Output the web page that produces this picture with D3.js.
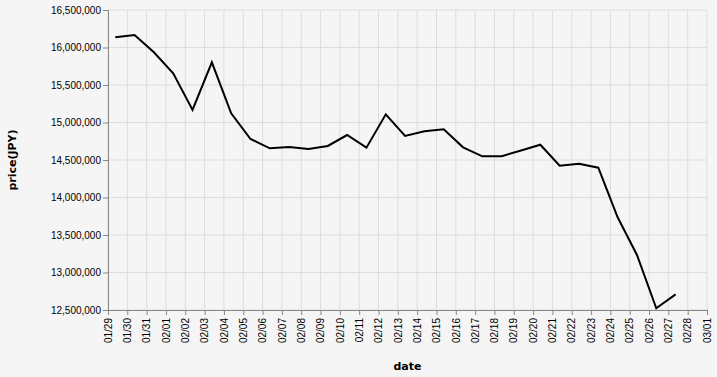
<!DOCTYPE html>
<html lang="en">
<head>
<meta charset="utf-8">
<title>price(JPY)</title>
<script src="https://cdn.jsdelivr.net/npm/d3@7"></script>
<style>
  body { margin: 0; background: #f5f5f5; }
  svg { display: block; font-family: "DejaVu Sans", sans-serif; }
</style>
</head>
<body>
<script>
// daily observations, 01/29 .. 02/27
var dates = [
  "2025-01-29", "2025-01-30", "2025-01-31", "2025-02-01", "2025-02-02",
  "2025-02-03", "2025-02-04", "2025-02-05", "2025-02-06", "2025-02-07",
  "2025-02-08", "2025-02-09", "2025-02-10", "2025-02-11", "2025-02-12",
  "2025-02-13", "2025-02-14", "2025-02-15", "2025-02-16", "2025-02-17",
  "2025-02-18", "2025-02-19", "2025-02-20", "2025-02-21", "2025-02-22",
  "2025-02-23", "2025-02-24", "2025-02-25", "2025-02-26", "2025-02-27"
];
var prices = [
  16136000, 16167000, 15936000, 15656000, 15167000,
  15803000, 15123000, 14780000, 14656000, 14673000,
  14647000, 14687000, 14833000, 14664000, 15109000,
  14820000, 14883000, 14909000, 14669000, 14549000,
  14551000, 14627000, 14704000, 14424000, 14451000,
  14397000, 13736000, 13233000, 12523000, 12709000
];
var yTicks = [12500000, 13000000, 13500000, 14000000, 14500000,
              15000000, 15500000, 16000000, 16500000];
var xStart = "2025-01-29", xEnd = "2025-03-01";

var w = 717, h = 377;
var margin = {top: 10, right: 10, bottom: 67, left: 108};

var parse = d3.timeParse("%Y-%m-%d %H:%M");
var data = dates.map(function (d, i) {
    return {date: parse(d + " 09:00"), price: prices[i]};
});

var xScale = d3.scaleTime()
        .domain([parse(xStart + " 00:00"), parse(xEnd + " 00:00")])
        .range([margin.left, 707]);

var yScale = d3.scaleLinear()
        .domain([12500000, 16500000])
        .range([310, margin.top]);

var svg = d3.select("body")
        .append("svg")
        .attr("width", w)
        .attr("height", h);

svg.append("rect")
        .attr("width", w)
        .attr("height", h)
        .attr("fill", "#f5f5f5");

var days = d3.timeDay.range(xScale.domain()[0], d3.timeDay.offset(xScale.domain()[1], 1));

// grid
svg.append("g")
        .selectAll("line.xg")
        .data(days)
        .enter()
        .append("line")
        .attr("x1", function (d) { return xScale(d); })
        .attr("x2", function (d) { return xScale(d); })
        .attr("y1", 10)
        .attr("y2", 310)
        .attr("stroke", "#dddddd");

svg.append("g")
        .selectAll("line.yg")
        .data(yTicks)
        .enter()
        .append("line")
        .attr("x1", margin.left)
        .attr("x2", 707)
        .attr("y1", function (d) { return yScale(d); })
        .attr("y2", function (d) { return yScale(d); })
        .attr("stroke", "#dddddd");

// axes
var xAxis = svg.append("g")
        .attr("transform", "translate(0,310)")
        .call(d3.axisBottom(xScale)
            .tickValues(days)
            .tickFormat(d3.timeFormat("%m/%d"))
            .tickSize(5)
            .tickPadding(2));

xAxis.selectAll("text")
        .attr("transform", "rotate(-90)")
        .attr("x", -8)
        .attr("y", 0)
        .attr("dy", "0.32em")
        .attr("text-anchor", "end")
        .attr("font-size", 10)
        .attr("fill", "#000");

var yAxis = svg.append("g")
        .attr("transform", "translate(" + margin.left + ",0)")
        .call(d3.axisLeft(yScale)
            .tickValues(yTicks)
            .tickFormat(d3.format(","))
            .tickSize(5)
            .tickPadding(2));

yAxis.selectAll("text")
        .attr("font-size", 10)
        .attr("fill", "#000");

svg.selectAll(".domain, .tick line")
        .attr("stroke", "#888888");

// line
svg.append("path")
        .datum(data)
        .attr("fill", "none")
        .attr("stroke", "#000")
        .attr("stroke-width", 2)
        .attr("d", d3.line()
            .x(function (d) { return xScale(d.date); })
            .y(function (d) { return yScale(d.price); }));

// titles
svg.append("text")
        .text("date")
        .attr("x", (margin.left + 707) / 2)
        .attr("y", 370)
        .attr("text-anchor", "middle")
        .attr("font-size", 11)
        .attr("font-weight", "bold");

svg.append("text")
        .text("price(JPY)")
        .attr("transform", "translate(16,160) rotate(-90)")
        .attr("text-anchor", "middle")
        .attr("font-size", 11)
        .attr("font-weight", "bold");
</script>
</body>
</html>
